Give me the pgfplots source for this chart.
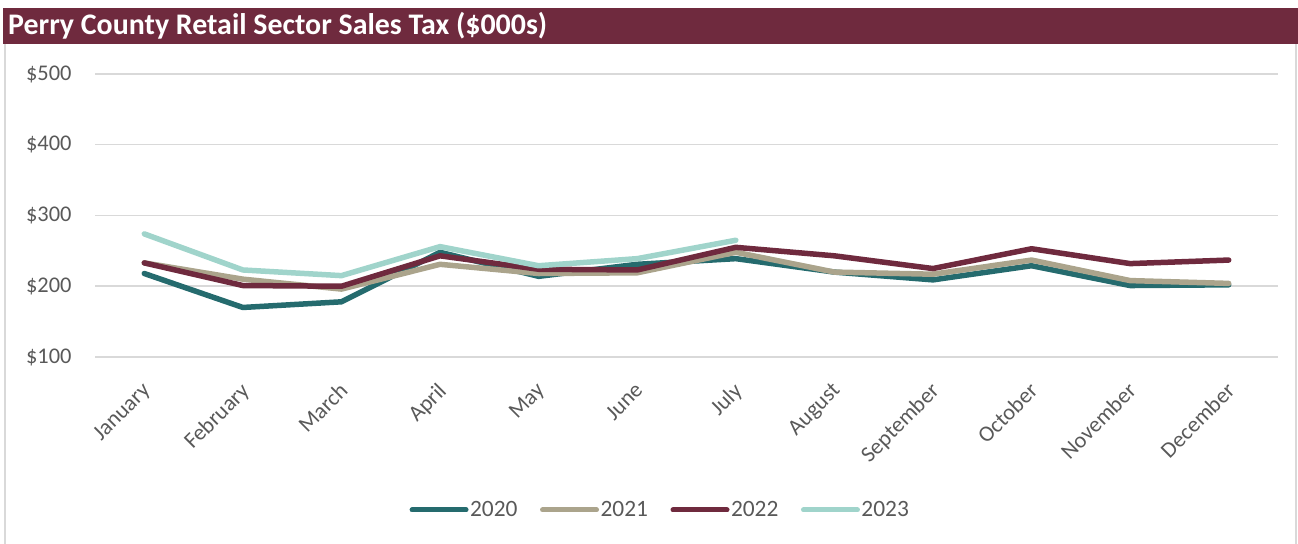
\documentclass[border=0pt]{standalone}
\usepackage{fontspec}
\setmainfont{Carlito}
\usepackage{pgfplots}
\pgfplotsset{compat=1.18}

\definecolor{c2020}{HTML}{256B6E}
\definecolor{c2021}{HTML}{ABA48C}
\definecolor{c2022}{HTML}{6F2A3E}
\definecolor{c2023}{HTML}{A0D4CB}
\definecolor{titlebar}{HTML}{6F2A3E}
\definecolor{gridgray}{HTML}{D9D9D9}
\definecolor{textgray}{HTML}{595959}

\begin{document}
\begin{tikzpicture}[x=1bp,y=1bp]
\useasboundingbox (0,0) rectangle (1298,544);
% frame and title bar
\draw[gridgray, line width=1.5bp] (5,0) -- (5,500) (1296,0) -- (1296,500);
\fill[titlebar] (3,500) rectangle (1298,536);
\node[anchor=base west, text=white, font=\bfseries\fontsize{30}{34}\selectfont, inner sep=0pt]
  at (8,509) {Perry County Retail Sector Sales Tax (\$000s)};

\begin{axis}[
    at={(95bp,187bp)}, anchor=south west,
    scale only axis, width=1183bp, height=283bp,
    xmin=-0.5, xmax=11.5, ymin=100, ymax=500,
    axis line style={draw=none},
    tick style={draw=none},
    ytick={100,200,300,400,500},
    yticklabels={\$100,\$200,\$300,\$400,\$500},
    ymajorgrids, grid style={gridgray, line width=1.5bp},
    xtick={0,...,11},
    xticklabels={January,February,March,April,May,June,July,August,September,October,November,December},
    ticklabel style={font=\fontsize{22.5}{26}\selectfont, text=textgray},
    yticklabel style={xshift=-20bp},
    xticklabel style={anchor=north east, xshift=-3.5bp, yshift=-19.5bp, rotate=45},
    clip=false,
    legend columns=4,
    legend style={at={(0.4776,-0.5406)}, anchor=center, draw=none, fill=none,
      font=\fontsize{23.5}{26}\selectfont, text=textgray,
      /tikz/every even column/.append style={column sep=21bp},
      nodes={inner sep=1.5bp}},
    legend image code/.code={\draw[#1, line width=5bp, line cap=round] (0bp,0bp) -- (54bp,0bp);},
    every axis plot/.append style={line width=5.5bp, line join=round, line cap=round, mark=none},
]
\addplot[c2020] coordinates {(0,218) (1,170) (2,178) (3,248) (4,214) (5,231) (6,239) (7,220) (8,209) (9,229) (10,201) (11,202)};
\addplot[c2021] coordinates {(0,233) (1,210) (2,196) (3,231) (4,218) (5,219) (6,248) (7,220) (8,217) (9,237) (10,208) (11,204)};
\addplot[c2022] coordinates {(0,233) (1,201) (2,200) (3,243) (4,224) (5,223) (6,255) (7,243) (8,225) (9,253) (10,232) (11,237)};
\addplot[c2023] coordinates {(0,274) (1,223) (2,215) (3,256) (4,229) (5,239) (6,265)};
\legend{2020,2021,2022,2023}
\end{axis}
\end{tikzpicture}
\end{document}
